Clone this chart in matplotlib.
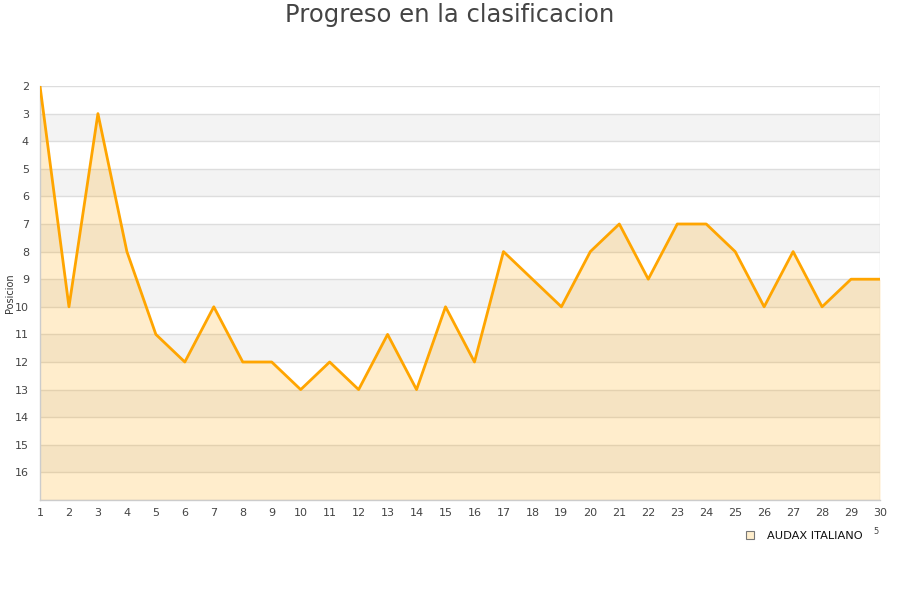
import matplotlib
matplotlib.use("Agg")
import matplotlib.pyplot as plt
from matplotlib.lines import Line2D

rounds = list(range(1, 31))
positions = [2, 10, 3, 8, 11, 12, 10, 12, 12, 13, 12, 13, 11, 13, 10, 12,
             8, 9, 10, 8, 7, 9, 7, 7, 8, 10, 8, 10, 9, 9]
y_ticks = list(range(2, 17))
team = "AUDAX ITALIANO"
title = "Progreso en la clasificacion"
ylabel = "Posicion"

fig = plt.figure(figsize=(9, 6), dpi=100)
ax = fig.add_axes([40/900, 1-500/600, 840/900, 414/600])

ymin, ymax = 2, 17
# alternating bands
for k in range(ymin, ymax):
    if (k - ymin) % 2 == 1:
        ax.axhspan(k, k + 1, color="#f3f3f3", zorder=0, lw=0)
for k in range(ymin, ymax + 1):
    ax.axhline(k, color="#dddddd", lw=1, zorder=1)

ax.fill_between(rounds, positions, ymax, color=(1.0, 0.647, 0.0), alpha=0.2,
                lw=0, zorder=2)
ax.plot(rounds, positions, color="#ffa500", lw=2.0, zorder=3)

ax.set_xlim(1, 30)
ax.set_ylim(ymax, ymin)
ax.set_xticks(rounds)
ax.set_yticks(y_ticks)
ax.tick_params(axis="both", length=0, labelsize=8, colors="#444444", pad=6)
ax.tick_params(axis="y", pad=8)
for s in ["top", "right"]:
    ax.spines[s].set_visible(False)
for s in ["left", "bottom"]:
    ax.spines[s].set_color("#cccccc")
    ax.spines[s].set_linewidth(1)
ax.axvline(30, color="#dddddd", lw=1, zorder=1)

fig.text(0.5, 1-15/600, title, ha="center", va="center", fontsize=17.5,
         color="#444444")
fig.text(10/900, 1-293/600, ylabel, rotation=90, ha="center", va="center",
         fontsize=7, color="#333333")

handle = Line2D([], [], marker="s", linestyle="none", markersize=6,
                markerfacecolor="#ffeecc", markeredgecolor="#777777",
                markeredgewidth=0.8)
leg = fig.legend([handle], [team], loc="center right",
                 bbox_to_anchor=(867/900, 1-536/600), frameon=False,
                 fontsize=8.2, handletextpad=0.5, borderaxespad=0)
for t in leg.get_texts():
    t.set_color("#111111")
fig.text(876/900, 1-531/600, "5", ha="center", va="center", fontsize=6,
         color="#444444")

fig.savefig("out.png", dpi=100)
